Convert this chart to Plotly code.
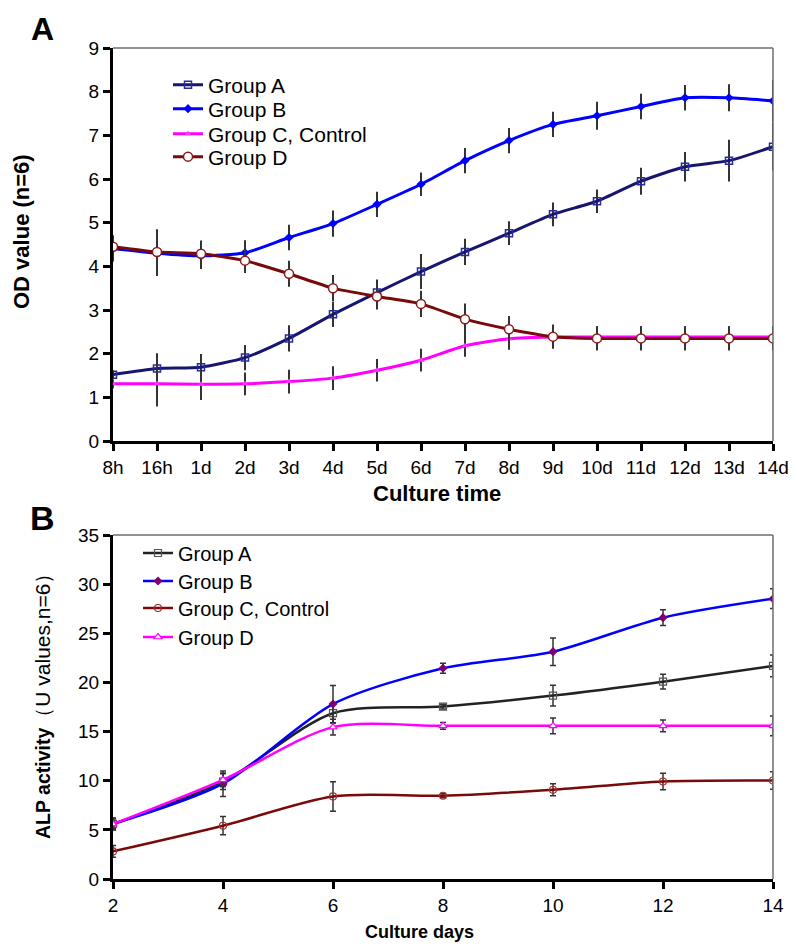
import plotly.graph_objects as go

# ---------------- Panel A data ----------------
time_labels = ["8h", "16h", "1d", "2d", "3d", "4d", "5d", "6d", "7d", "8d",
               "9d", "10d", "11d", "12d", "13d", "14d"]
od_group_a = [1.52, 1.66, 1.69, 1.91, 2.35, 2.90, 3.40, 3.88, 4.33, 4.76,
              5.19, 5.49, 5.95, 6.28, 6.42, 6.74]
od_group_b = [4.41, 4.30, 4.24, 4.31, 4.66, 4.98, 5.42, 5.88, 6.42, 6.88,
              7.25, 7.45, 7.66, 7.86, 7.86, 7.79]
od_group_c = [1.31, 1.31, 1.30, 1.31, 1.36, 1.44, 1.62, 1.85, 2.18, 2.34,
              2.38, 2.38, 2.38, 2.38, 2.38, 2.38]
od_group_d = [4.45, 4.33, 4.29, 4.13, 3.83, 3.50, 3.31, 3.14, 2.79, 2.56,
              2.39, 2.35, 2.35, 2.35, 2.35, 2.35]
od_err_a = [0.10, 0.35, 0.30, 0.29, 0.30, 0.29, 0.30, 0.40, 0.30, 0.27,
            0.27, 0.27, 0.31, 0.34, 0.48, 0.55]
od_err_b = [0.30, 0.52, 0.30, 0.29, 0.29, 0.30, 0.29, 0.27, 0.29, 0.29,
            0.29, 0.32, 0.29, 0.29, 0.31, 0.48]
od_err_c = [0.10, 0.52, 0.36, 0.26, 0.27, 0.27, 0.26, 0.26, 0.25, 0.25,
            0.25, 0.25, 0.25, 0.25, 0.25, 0.25]
od_err_d = [0.10, 0.52, 0.30, 0.28, 0.30, 0.30, 0.30, 0.30, 0.36, 0.30,
            0.28, 0.28, 0.28, 0.28, 0.28, 0.28]

# ---------------- Panel B data ----------------
culture_days = [2, 4, 6, 8, 10, 12, 14]
alp_group_a = [5.6, 9.9, 16.87, 17.54, 18.66, 20.08, 21.68]
alp_group_b = [5.6, 9.7, 17.8, 21.44, 23.13, 26.59, 28.52]
alp_group_c = [2.81, 5.42, 8.40, 8.47, 9.08, 9.92, 10.02]
alp_group_d = [5.59, 10.09, 15.45, 15.58, 15.58, 15.58, 15.58]
alp_err_a = [0.5, 0.8, 1.0, 0.25, 1.05, 0.75, 1.1]
alp_err_b = [0.6, 1.3, 1.9, 0.5, 1.4, 0.8, 1.0]
alp_err_c = [0.6, 0.93, 1.5, 0.2, 0.6, 0.85, 0.9]
alp_err_d = [0.6, 0.7, 0.8, 0.35, 0.8, 0.6, 1.0]

FONT = "Liberation Sans, Arial, sans-serif"
OFF = 8                      # the page body adds an 8px margin
W, H = 797 - OFF, 951 - OFF  # figure size so it exactly fills the window


def px_x(p):
    return (p - OFF) / W


def px_y(p):
    return 1 - (p - OFF) / H


def ebar(arr, width=0, thick=2):
    return dict(type="data", array=arr, visible=True, color="#333333",
                thickness=thick, width=width)


fig = go.Figure()

# Panel A traces (each in its own single-entry legend for precise placement)
fig.add_trace(go.Scatter(x=time_labels, y=od_group_a, name="Group A", mode="lines+markers",
                         line=dict(color="#161670", width=3, shape="spline", smoothing=0.6),
                         marker=dict(symbol="square-open", size=7, color="#2a2a9a", line=dict(width=1.5)),
                         error_y=ebar(od_err_a), xaxis="x", yaxis="y", legend="legend"))
fig.add_trace(go.Scatter(x=time_labels, y=od_group_b, name="Group B", mode="lines+markers",
                         line=dict(color="#0000ff", width=3, shape="spline", smoothing=0.6),
                         marker=dict(symbol="diamond", size=7, color="#0000ff"),
                         error_y=ebar(od_err_b), xaxis="x", yaxis="y", legend="legend2"))
fig.add_trace(go.Scatter(x=time_labels, y=od_group_c, name="Group C, Control", mode="lines+markers",
                         line=dict(color="#ff00ff", width=3, shape="spline", smoothing=0.6),
                         marker=dict(symbol="triangle-up", size=6, color="#ff33ff"),
                         error_y=ebar(od_err_c), xaxis="x", yaxis="y", legend="legend3"))
fig.add_trace(go.Scatter(x=time_labels, y=od_group_d, name="Group D", mode="lines+markers",
                         line=dict(color="#7a0a0a", width=3, shape="spline", smoothing=0.6),
                         marker=dict(symbol="circle", size=9, color="white",
                                     line=dict(color="#8b1a1a", width=1.5)),
                         error_y=ebar(od_err_d), xaxis="x", yaxis="y", legend="legend4"))

# Panel B traces
fig.add_trace(go.Scatter(x=culture_days, y=alp_group_a, name="Group A", mode="lines+markers",
                         line=dict(color="#222222", width=2.5, shape="spline", smoothing=0.8),
                         marker=dict(symbol="square-open", size=7, color="#555555", line=dict(width=1.2)),
                         error_y=ebar(alp_err_a, 3, 1.5), xaxis="x2", yaxis="y2", legend="legend5"))
fig.add_trace(go.Scatter(x=culture_days, y=alp_group_b, name="Group B", mode="lines+markers",
                         line=dict(color="#0000ff", width=2.5, shape="spline", smoothing=0.8),
                         marker=dict(symbol="diamond", size=7, color="#800070"),
                         error_y=ebar(alp_err_b, 3, 1.5), xaxis="x2", yaxis="y2", legend="legend6"))
fig.add_trace(go.Scatter(x=culture_days, y=alp_group_c, name="Group C, Control", mode="lines+markers",
                         line=dict(color="#7a0a0a", width=2.5, shape="spline", smoothing=0.8),
                         marker=dict(symbol="circle-open", size=7, color="#a03030", line=dict(width=1.2)),
                         error_y=ebar(alp_err_c, 3, 1.5), xaxis="x2", yaxis="y2", legend="legend7"))
fig.add_trace(go.Scatter(x=culture_days, y=alp_group_d, name="Group D", mode="lines+markers",
                         line=dict(color="#ff00ff", width=2.5, shape="spline", smoothing=0.8),
                         marker=dict(symbol="triangle-up", size=7, color="white",
                                     line=dict(color="#ff00ff", width=1.2)),
                         error_y=ebar(alp_err_d, 3, 1.5), xaxis="x2", yaxis="y2", legend="legend8"))

axis_common = dict(showgrid=False, zeroline=False, showline=True, linecolor="black",
                   linewidth=3, ticks="outside", ticklen=7, tickwidth=3, tickcolor="black",
                   automargin=False,
                   tickfont=dict(family=FONT, size=19, color="black"))

xdom = [px_x(113), px_x(773)]
layout = dict(
    width=W, height=H,
    margin=dict(l=0, r=0, t=0, b=0, autoexpand=False),
    paper_bgcolor="white", plot_bgcolor="white",
    font=dict(family=FONT, color="black"),
    xaxis=dict(domain=xdom, anchor="y", type="category", range=[0, 15], **axis_common),
    yaxis=dict(domain=[px_y(441), px_y(48)], anchor="x", range=[0, 9], dtick=1, **axis_common),
    xaxis2=dict(domain=xdom, anchor="y2", range=[2, 14], dtick=2, **axis_common),
    yaxis2=dict(domain=[px_y(879), px_y(535)], anchor="x2", range=[0, 35], dtick=5, **axis_common),
    showlegend=True,
)

# legend rows: A panel text starts at x=208, rows at y 85,109,134,157
legA_rows = [85, 109, 134, 157]
legB_rows = [553, 581, 608, 637]
for i, yy in enumerate(legA_rows):
    key = "legend" if i == 0 else f"legend{i + 1}"
    layout[key] = dict(x=px_x(168), y=px_y(yy), xanchor="left", yanchor="middle",
                       bgcolor="rgba(0,0,0,0)", borderwidth=0,
                       font=dict(family=FONT, size=21, color="black"), itemwidth=30)
for i, yy in enumerate(legB_rows):
    key = f"legend{i + 5}"
    layout[key] = dict(x=px_x(138), y=px_y(yy), xanchor="left", yanchor="middle",
                       bgcolor="rgba(0,0,0,0)", borderwidth=0,
                       font=dict(family=FONT, size=20, color="black"), itemwidth=30)
fig.update_layout(**layout)

# thin gray top/right frame lines
for xr, yr in (("x", "y"), ("x2", "y2")):
    fig.add_shape(type="line", xref=f"{xr} domain", yref=f"{yr} domain", x0=0, x1=1, y0=1, y1=1,
                  line=dict(color="#6e6e6e", width=1.5))
    fig.add_shape(type="line", xref=f"{xr} domain", yref=f"{yr} domain", x0=1, x1=1, y0=0, y1=1,
                  line=dict(color="#6e6e6e", width=1.5))

ann = [
    dict(text="<b>A</b>", x=px_x(42), y=px_y(29), size=32, angle=0),
    dict(text="<b>B</b>", x=px_x(42), y=px_y(518), size=34, angle=0),
    dict(text="<b>OD value (n=6)</b>", x=px_x(22), y=px_y(232), size=22, angle=-90),
    dict(text="<b>Culture time</b>", x=px_x(437), y=px_y(494), size=22, angle=0),
    dict(text="<b>ALP activity</b><span style='font-size:21px'>（U values,n=6）</span>",
         x=px_x(42), y=px_y(701), size=19.5, angle=-90),
    dict(text="<b>Culture days</b>", x=px_x(420), y=px_y(932), size=18, angle=0),
]
for a in ann:
    fig.add_annotation(text=a["text"], x=a["x"], y=a["y"], xref="paper", yref="paper",
                       showarrow=False, textangle=a["angle"], xanchor="center", yanchor="middle",
                       font=dict(family=FONT, size=a["size"], color="black"))

fig.write_html("out.html")
